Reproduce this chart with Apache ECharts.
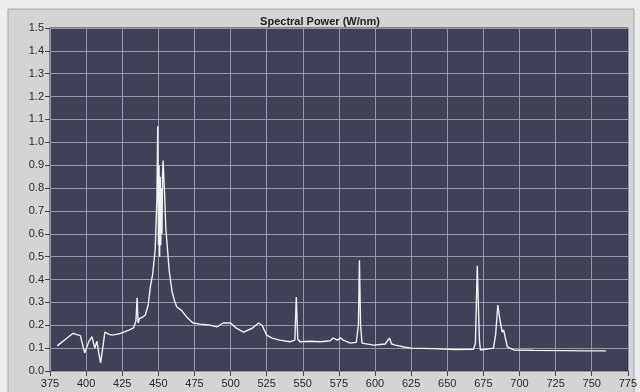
<!DOCTYPE html>
<html>
<head>
<meta charset="utf-8">
<script src="https://cdn.jsdelivr.net/npm/echarts@6/dist/echarts.min.js"></script>
<style>
  html, body { margin: 0; padding: 0; background: #ececec; }
  #chart { width: 640px; height: 392px; }
</style>
</head>
<body>
<div id="chart"></div>
<script>
// wavelength (nm) and spectral power (W/nm)
var wavelengths = [380, 383, 386, 389, 391, 393, 396, 399, 402, 404, 406, 407.5, 409, 410, 411.5, 413, 416, 418, 421, 424, 427, 430, 433,
    434.5, 435.3, 436, 437, 439, 441, 443, 444.5, 446, 447.8, 449, 449.6, 450.1, 450.5, 450.9, 451.3, 451.7, 452.1, 452.5, 452.9, 453.3, 454.3,
    455.2, 456, 457.5, 459.4, 461, 462.8, 466, 469.8, 474, 479, 486, 490.6, 495, 500, 504, 509, 515, 519.4, 521.8, 525, 528.7,
    534, 541, 544.5, 545.5, 546.5, 548, 555, 562, 569, 571, 574, 576, 578, 583, 587, 588.5, 589.2, 590, 591, 599, 607, 610,
    611.5, 614, 620, 625, 640, 655, 668, 669.5, 670.2, 670.8, 671.5, 672.3, 673, 682, 683.5, 685, 686.3, 688, 689, 690, 691.6,
    696, 710, 730, 745, 760];
var power = [0.11, 0.125, 0.14, 0.155, 0.165, 0.16, 0.155, 0.08, 0.13, 0.15, 0.10, 0.13, 0.07, 0.035, 0.10, 0.17, 0.16, 0.157, 0.16, 0.165, 0.172, 0.18, 0.19,
    0.22, 0.32, 0.21, 0.23, 0.235, 0.245, 0.29, 0.37, 0.42, 0.53, 0.75, 1.07, 0.55, 0.9, 0.5, 0.85, 0.55, 0.8, 0.6, 0.86, 0.92, 0.78,
    0.62, 0.56, 0.44, 0.35, 0.31, 0.28, 0.265, 0.235, 0.21, 0.205, 0.2, 0.193, 0.21, 0.21, 0.187, 0.17, 0.187, 0.21, 0.2, 0.157, 0.144,
    0.135, 0.128, 0.135, 0.324, 0.14, 0.128, 0.13, 0.128, 0.132, 0.144, 0.135, 0.145, 0.135, 0.122, 0.125, 0.2, 0.484, 0.2, 0.122, 0.113, 0.118, 0.144,
    0.118, 0.113, 0.105, 0.1, 0.098, 0.094, 0.095, 0.12, 0.31, 0.46, 0.30, 0.13, 0.092, 0.1, 0.16, 0.288, 0.23, 0.17, 0.18, 0.15, 0.106,
    0.092, 0.09, 0.089, 0.088, 0.088];

var xMin = 375, xMax = 775, xStep = 25;
var yMin = 0, yMax = 1.5, yStep = 0.1;

var points = wavelengths.map(function (w, i) { return [w, power[i]]; });

var myChart = echarts.init(document.getElementById('chart'));
var option = {
    backgroundColor: '#ececec',
    animation: false,
    title: {
        text: 'Spectral Power (W/nm)',
        left: 'center',
        top: 11,
        textStyle: {
            fontFamily: 'Liberation Sans',
            fontSize: 11,
            fontWeight: 'bold',
            color: '#1e1e1e'
        }
    },
    graphic: [
        {
            type: 'rect',
            z: -10,
            shape: { x: 8, y: 9, width: 626, height: 390 },
            style: { fill: '#d4d4d6', stroke: '#a8a8aa', lineWidth: 1 }
        }
    ],
    grid: {
        left: 50,
        right: 12,
        top: 28,
        bottom: 21,
        show: true,
        backgroundColor: '#3f4157',
        borderColor: '#2a2c3c',
        borderWidth: 1
    },
    xAxis: {
        type: 'value',
        min: xMin,
        max: xMax,
        interval: xStep,
        axisLine: { show: false },
        axisTick: { show: true, length: 5, lineStyle: { color: '#444' } },
        axisLabel: {
            color: '#2a2a2a',
            fontFamily: 'Liberation Sans',
            fontSize: 11,
            margin: 7
        },
        splitLine: { show: true, lineStyle: { color: '#9698aa', width: 1 } }
    },
    yAxis: {
        type: 'value',
        min: yMin,
        max: yMax,
        interval: yStep,
        axisLine: { show: false },
        axisTick: { show: true, length: 5, lineStyle: { color: '#444' } },
        axisLabel: {
            color: '#2a2a2a',
            fontFamily: 'Liberation Sans',
            fontSize: 11,
            margin: 6,
            formatter: function (v) { return v.toFixed(1); }
        },
        splitLine: { show: true, lineStyle: { color: '#9698aa', width: 1 } }
    },
    series: [
        {
            type: 'line',
            data: points,
            showSymbol: false,
            smooth: false,
            lineStyle: { color: '#f2f2f2', width: 1.4 }
        }
    ]
};
myChart.setOption(option);
</script>
</body>
</html>
